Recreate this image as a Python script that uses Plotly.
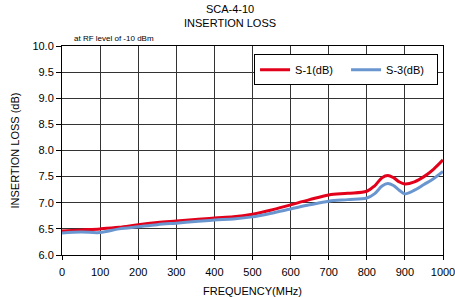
import plotly.graph_objects as go

freq = [0, 50, 100, 150, 200, 250, 300, 350, 400, 450, 500, 550, 600, 650, 700, 750, 800, 820, 840, 855, 870, 885, 900, 925, 950, 975, 1000]
s1 = [6.46, 6.48, 6.50, 6.53, 6.58, 6.62, 6.65, 6.68, 6.71, 6.73, 6.78, 6.86, 6.96, 7.06, 7.15, 7.18, 7.22, 7.32, 7.48, 7.52, 7.48, 7.40, 7.36, 7.40, 7.50, 7.64, 7.82]
s3 = [6.42, 6.44, 6.43, 6.50, 6.54, 6.58, 6.61, 6.64, 6.67, 6.69, 6.73, 6.80, 6.88, 6.96, 7.03, 7.06, 7.09, 7.17, 7.32, 7.37, 7.33, 7.24, 7.17, 7.24, 7.35, 7.46, 7.60]
x_ticks = [0, 100, 200, 300, 400, 500, 600, 700, 800, 900, 1000]
y_ticks = [6.0, 6.5, 7.0, 7.5, 8.0, 8.5, 9.0, 9.5, 10.0]

font = "Liberation Sans, Arial, sans-serif"
fig = go.Figure()
fig.add_trace(go.Scatter(x=freq, y=s1, mode="lines", name="S-1(dB)",
                         line=dict(color="#E2001A", width=3, shape="spline")))
fig.add_trace(go.Scatter(x=freq, y=s3, mode="lines", name="S-3(dB)",
                         line=dict(color="#6A96D0", width=3, shape="spline")))

fig.update_layout(
    width=455, height=297,
    margin=dict(l=62, r=12, t=46, b=42, autoexpand=False),
    paper_bgcolor="white", plot_bgcolor="white",
    font=dict(family=font, size=11, color="black"),
    showlegend=True,
    legend=dict(orientation="h", x=0.987, y=0.96, xanchor="right", yanchor="top",
                bgcolor="white", bordercolor="black", borderwidth=1,
                font=dict(size=11), itemwidth=30, entrywidth=46, entrywidthmode="pixels",
                tracegroupgap=0),
    annotations=[
        dict(text="SCA-4-10<br>INSERTION LOSS", x=0.44, y=1.145, xref="paper", yref="paper",
             showarrow=False, font=dict(size=11), xanchor="center", yanchor="middle"),
        dict(text="at RF level of -10 dBm", x=0.025, y=1.038, xref="paper",
             yref="paper", showarrow=False, font=dict(size=8), xanchor="left", yanchor="middle"),
    ],
)
fig.update_xaxes(range=[0, 1000], tickvals=x_ticks, ticks="outside", ticklen=4,
                 ticklabeloverflow="allow", ticklabelstandoff=3,
                 tickcolor="black", showgrid=True, gridcolor="#333333", gridwidth=1,
                 showline=True, linecolor="black", linewidth=1, mirror=True, automargin=False,
                 zeroline=False, title=dict(text="FREQUENCY(MHz)", standoff=12, font=dict(size=11)))
fig.update_yaxes(range=[6, 10], tickvals=y_ticks, tickformat=".1f", ticks="outside",
                 ticklen=5, tickcolor="black", showgrid=True, gridcolor="#333333", automargin=False,
                 gridwidth=1, showline=True, linecolor="black", linewidth=1, mirror=True,
                 zeroline=False, title=dict(text="INSERTION LOSS (dB)", standoff=10, font=dict(size=11)))
fig.write_html("out.html", config={"displayModeBar": False},
               post_script="document.body.style.margin='0';document.body.style.overflow='hidden';")
